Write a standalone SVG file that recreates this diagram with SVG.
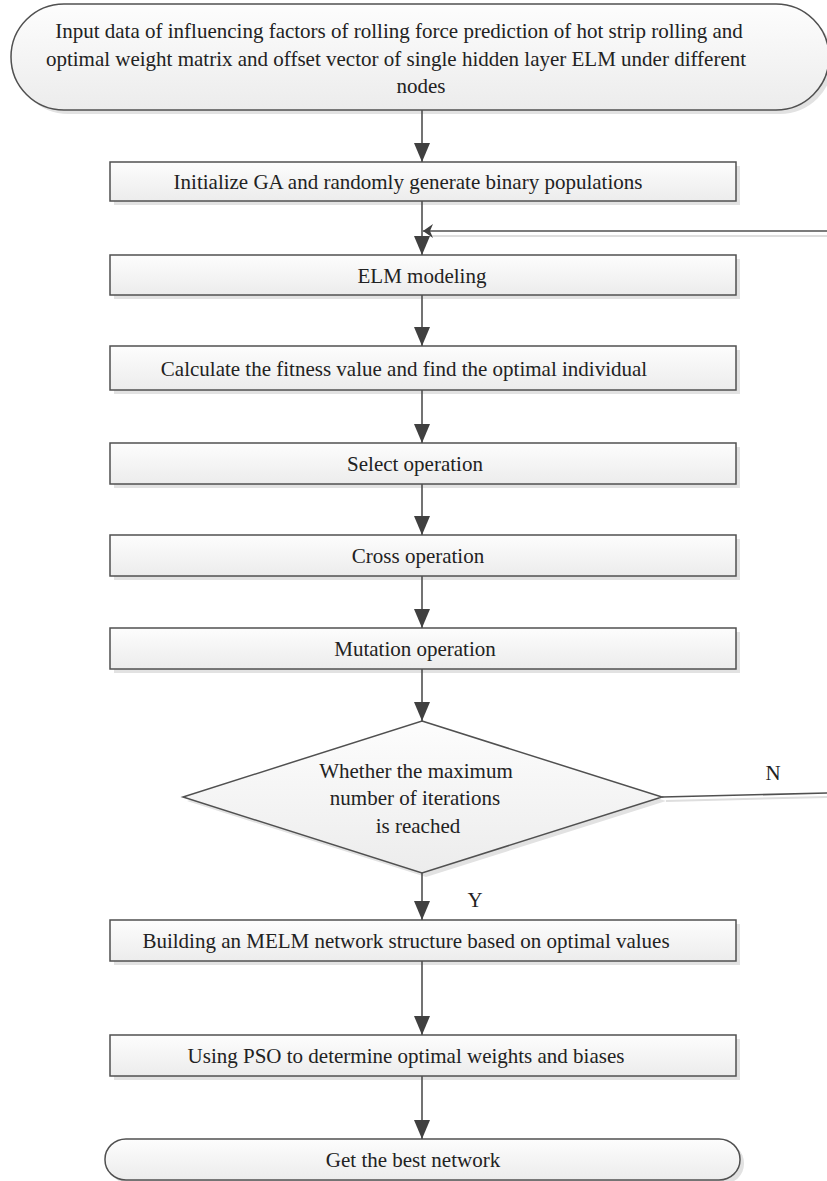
<svg xmlns="http://www.w3.org/2000/svg" width="827" height="1181" viewBox="0 0 827 1181">
<defs>
<linearGradient id="g" x1="0" y1="0" x2="0" y2="1">
<stop offset="0" stop-color="#fdfdfd"/>
<stop offset="1" stop-color="#ececec"/>
</linearGradient>
<marker id="ah" markerUnits="userSpaceOnUse" viewBox="0 0 19 16" refX="19" refY="8" markerWidth="19" markerHeight="16" orient="auto">
<path d="M0,0 L19,8 L0,16 Z" fill="#404040"/>
</marker>
<marker id="ahs" markerUnits="userSpaceOnUse" viewBox="0 0 10 14" refX="10" refY="7" markerWidth="10" markerHeight="14" orient="auto">
<path d="M0,0 L10,7 L0,14 L3,7 Z" fill="#404040"/>
</marker>
</defs>
<style>
.box{fill:url(#g);stroke:#505050;stroke-width:1.5}
.sh{fill:#e2e2e2;stroke:none}
.t{font-family:"Liberation Serif","Times New Roman",serif;font-size:21px;fill:#222;text-anchor:middle}
.c{fill:none;stroke:#505050;stroke-width:1.6}
.cs{fill:none;stroke:#dedede;stroke-width:2}
</style>

<g id="n-input">
<rect class="sh" x="15" y="8" width="818" height="106" rx="53" ry="53"/>
<rect class="box" x="11" y="4" width="818" height="106" rx="53" ry="53"/>
<text class="t" x="399" y="38">Input data of influencing factors of rolling force prediction of hot strip rolling and</text>
<text class="t" x="396" y="66">optimal weight matrix and offset vector of single hidden layer ELM under different</text>
<text class="t" x="421" y="93">nodes</text>
</g>

<g id="n-init">
<rect class="sh" x="114" y="166" width="626" height="39"/>
<rect class="box" x="110" y="162" width="626" height="39"/>
<text class="t" x="408" y="189">Initialize GA and randomly generate binary populations</text>
</g>

<g id="n-elm">
<rect class="sh" x="114" y="259" width="626" height="40"/>
<rect class="box" x="110" y="255" width="626" height="40"/>
<text class="t" x="422" y="283">ELM modeling</text>
</g>

<g id="n-fit">
<rect class="sh" x="114" y="350" width="626" height="44"/>
<rect class="box" x="110" y="346" width="626" height="44"/>
<text class="t" x="404" y="376">Calculate the fitness value and find the optimal individual</text>
</g>

<g id="n-select">
<rect class="sh" x="114" y="447" width="626" height="41"/>
<rect class="box" x="110" y="443" width="626" height="41"/>
<text class="t" x="415" y="471">Select operation</text>
</g>

<g id="n-cross">
<rect class="sh" x="114" y="539" width="626" height="41"/>
<rect class="box" x="110" y="535" width="626" height="41"/>
<text class="t" x="418" y="563">Cross operation</text>
</g>

<g id="n-mutation">
<rect class="sh" x="114" y="632" width="626" height="41"/>
<rect class="box" x="110" y="628" width="626" height="41"/>
<text class="t" x="415" y="656">Mutation operation</text>
</g>

<g id="n-decision">
<polygon class="sh" points="426,725 666,801 426,877 187,801"/>
<polygon class="box" points="422,721 662,797 422,873 183,797"/>
<text class="t" x="416" y="778">Whether the maximum</text>
<text class="t" x="415" y="805">number of iterations</text>
<text class="t" x="418" y="833">is reached</text>
</g>

<g id="n-build">
<rect class="sh" x="114" y="924" width="626" height="41"/>
<rect class="box" x="110" y="920" width="626" height="41"/>
<text class="t" x="406" y="948">Building an MELM network structure based on optimal values</text>
</g>

<g id="n-pso">
<rect class="sh" x="114" y="1039" width="626" height="41"/>
<rect class="box" x="110" y="1035" width="626" height="41"/>
<text class="t" x="406" y="1063">Using PSO to determine optimal weights and biases</text>
</g>

<g id="n-end">
<rect class="sh" x="109" y="1143" width="635" height="41" rx="21" ry="20"/>
<rect class="box" x="105" y="1139" width="635" height="41" rx="21" ry="20"/>
<text class="t" x="413" y="1167">Get the best network</text>
</g>

<g id="connectors">
<line class="cs" x1="827" y1="236" x2="430" y2="236"/>
<line class="cs" x1="666" y1="801" x2="827" y2="797"/>
<line class="c" x1="422" y1="110" x2="422" y2="162" marker-end="url(#ah)"/>
<line class="c" x1="422" y1="201" x2="422" y2="255" marker-end="url(#ah)"/>
<line class="c" x1="827" y1="231" x2="423" y2="231" marker-end="url(#ahs)"/>
<line class="c" x1="422" y1="295" x2="422" y2="346" marker-end="url(#ah)"/>
<line class="c" x1="422" y1="390" x2="422" y2="443" marker-end="url(#ah)"/>
<line class="c" x1="422" y1="484" x2="422" y2="535" marker-end="url(#ah)"/>
<line class="c" x1="422" y1="576" x2="422" y2="628" marker-end="url(#ah)"/>
<line class="c" x1="422" y1="669" x2="422" y2="721" marker-end="url(#ah)"/>
<line class="c" x1="422" y1="873" x2="422" y2="920" marker-end="url(#ah)"/>
<line class="c" x1="422" y1="961" x2="422" y2="1035" marker-end="url(#ah)"/>
<line class="c" x1="422" y1="1076" x2="422" y2="1139" marker-end="url(#ah)"/>
<line class="c" x1="662" y1="797" x2="827" y2="793"/>
<text class="t" x="773" y="780">N</text>
<text class="t" x="475" y="907">Y</text>
</g>
</svg>
